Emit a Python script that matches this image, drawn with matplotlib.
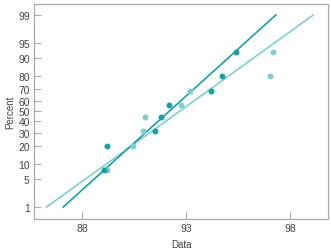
import numpy as np
import matplotlib
matplotlib.use("Agg")
import matplotlib.pyplot as plt
from statistics import NormalDist

# normal probability plot, two samples with fitted lines
pct = [7.6, 19.7, 31.8, 43.9, 56.1, 68.2, 80.3, 92.4]
dark_x = [89.05, 89.2, 91.5, 91.78, 92.16, 94.17, 94.7, 95.37]
light_x = [89.2, 90.44, 90.92, 91.0, 92.74, 93.17, 97.0, 97.14]

fit_pct = [1, 99]
dark_fit_x = [87.1, 97.3]
light_fit_x = [86.3, 99.1]

yticks = [1, 5, 10, 20, 30, 40, 50, 60, 70, 80, 90, 95, 99]
xticks = [88, 93, 98]

DARK = "#1a9ea3"
LIGHT = "#7fcfd2"
GRAY = "#aaaaaa"
TXT = "#444444"

_nd = NormalDist()
_fwd = np.vectorize(lambda p: _nd.inv_cdf(min(max(p / 100.0, 1e-9), 1 - 1e-9)),
                    otypes=[float])
_inv = np.vectorize(lambda z: 100.0 * _nd.cdf(z), otypes=[float])


def forward(p):
    return _fwd(np.asarray(p, dtype=float))


def inverse(z):
    return _inv(np.asarray(z, dtype=float))


plt.rcParams["font.family"] = ["Liberation Sans", "DejaVu Sans"]
fig = plt.figure(figsize=(3.31, 2.53), dpi=100, facecolor="white")
ax = fig.add_axes([0.1027, 0.1304, 0.8883, 0.8498])
ax.set_yscale("function", functions=(forward, inverse))

ax.plot(light_fit_x, fit_pct, color=LIGHT, lw=1.2, zorder=2)
ax.plot(dark_fit_x, fit_pct, color=DARK, lw=1.2, zorder=2)
ax.plot(light_x, pct, "o", color=LIGHT, ms=4.3, mew=0, zorder=3)
ax.plot(dark_x, pct, "o", color=DARK, ms=4.3, mew=0, zorder=4)

ax.set_xlim(85.7, 99.8)
ax.set_ylim(0.446, 99.52)
ax.set_xticks(xticks)
ax.set_yticks(yticks)
ax.set_yticklabels([str(t) for t in yticks])
ax.yaxis.set_minor_locator(matplotlib.ticker.NullLocator())
ax.tick_params(direction="in", length=5, width=0.8, color=GRAY,
               labelsize=7.5, labelcolor=TXT, pad=3)
for s in ax.spines.values():
    s.set_color(GRAY)
    s.set_linewidth(0.9)

ax.set_xlabel("Data", fontsize=7, color=TXT, labelpad=4)
ax.set_ylabel("Percent", fontsize=7, color=TXT, labelpad=2)

fig.savefig("out.png", dpi=100, facecolor="white")
